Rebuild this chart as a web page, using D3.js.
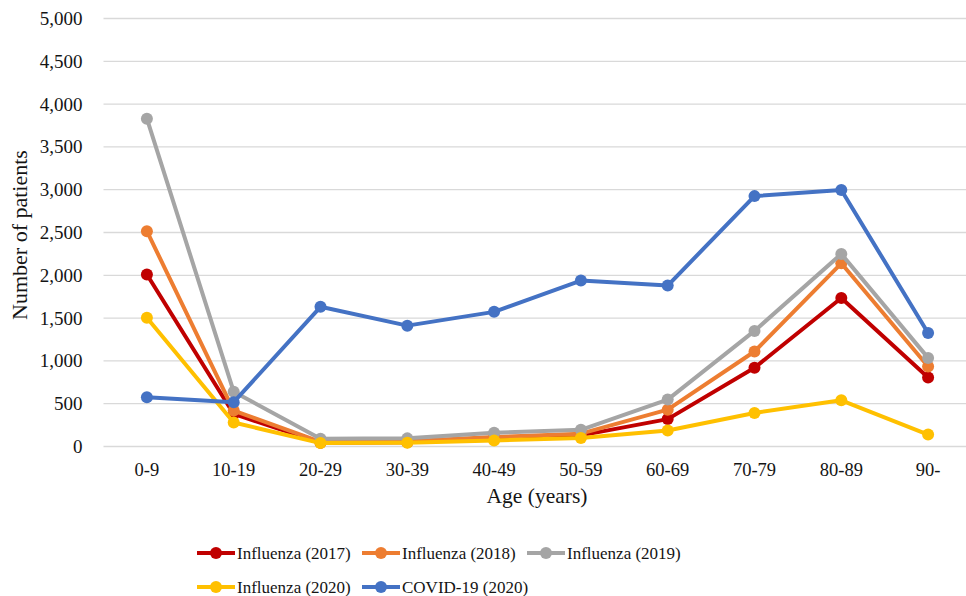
<!DOCTYPE html>
<html>
<head>
<meta charset="utf-8">
<script src="https://cdn.jsdelivr.net/npm/d3@7"></script>
<style>
  html, body { margin: 0; padding: 0; overflow: hidden; background: #fff; }
  svg { display: block; }
</style>
</head>
<body>
<svg id="chart" width="966" height="596"></svg>
<script>
const ageGroups = ['0-9', '10-19', '20-29', '30-39', '40-49', '50-59', '60-69', '70-79', '80-89', '90-']
const flu2017 = [2010, 380, 45, 50, 95, 130, 320, 920, 1735, 805]
const flu2018 = [2515, 420, 55, 60, 110, 150, 430, 1110, 2140, 935]
const flu2019 = [3830, 640, 90, 95, 160, 195, 548, 1350, 2250, 1035]
const flu2020 = [1505, 280, 40, 45, 70, 100, 186, 392, 540, 140]
const covid2020 = [575, 518, 1632, 1412, 1573, 1938, 1880, 2925, 2997, 1325]
const seriesNames = ['Influenza (2017)', 'Influenza (2018)', 'Influenza (2019)', 'Influenza (2020)', 'COVID-19 (2020)']
const seriesColors = ['#c00000', '#ed7d31', '#a5a5a5', '#ffc000', '#4472c4']
const yTicks = [0, 500, 1000, 1500, 2000, 2500, 3000, 3500, 4000, 4500, 5000]

const FONT = "'Liberation Serif', 'Times New Roman', serif"
const INK = '#141414'

const series = [flu2017, flu2018, flu2019, flu2020, covid2020].map((vals, i) => ({
  name: seriesNames[i],
  color: seriesColors[i],
  values: vals
}))

const svg = d3.select('#chart').attr('font-family', FONT)
const margin = { left: 103.5, right: -5.5, top: 18.5, bottom: 149.5 }
const width = +svg.attr('width')
const height = +svg.attr('height')
const innerWidth = width - margin.left - margin.right
const innerHeight = height - margin.top - margin.bottom
const gridRight = width - margin.left // the reference is cropped at the right edge

const x = d3.scaleBand().domain(ageGroups).range([0, innerWidth]).padding(0)
const y = d3.scaleLinear().domain([0, 5000]).range([innerHeight, 0])

const g = svg.append('g')
  .attr('transform', 'translate(' + margin.left + ',' + margin.top + ')')

// grid
g.append('g').selectAll('line').data(yTicks)
  .enter().append('line')
  .attr('x1', 0).attr('x2', gridRight)
  .attr('y1', d => y(d)).attr('y2', d => y(d))
  .attr('stroke', '#d9d9d9')
  .attr('stroke-width', 1.3)

// y labels
const yAxis = d3.axisLeft(y).tickValues(yTicks).tickSize(0).tickPadding(21)
  .tickFormat(d3.format(','))
const yAxisG = g.append('g').call(yAxis)
  .attr('font-family', FONT).attr('font-size', 19)
yAxisG.select('.domain').remove()
yAxisG.selectAll('.tick text').attr('fill', INK)

const xAxis = d3.axisBottom(x).tickSize(0).tickPadding(16)
const xAxisG = g.append('g').attr('transform', `translate(0, ${innerHeight})`).call(xAxis)
  .attr('font-family', FONT).attr('font-size', 18.5)
xAxisG.select('.domain').remove()
xAxisG.selectAll('.tick text').attr('fill', INK)

const line = d3.line()
  .x((d, i) => x(ageGroups[i]) + x.bandwidth() / 2)
  .y(d => y(d))

series.forEach(s => {
  const sg = g.append('g')
  sg.append('path')
    .datum(s.values)
    .attr('fill', 'none')
    .attr('stroke', s.color)
    .attr('stroke-width', 4)
    .attr('stroke-linejoin', 'round')
    .attr('d', line)
  sg.selectAll('circle').data(s.values)
    .enter().append('circle')
    .attr('cx', (d, i) => x(ageGroups[i]) + x.bandwidth() / 2)
    .attr('cy', d => y(d))
    .attr('r', 6)
    .attr('fill', s.color)
})

// axis titles
svg.append('text')
  .attr('x', 537)
  .attr('y', 503)
  .attr('text-anchor', 'middle')
  .attr('fill', INK)
  .attr('font-size', 21.5)
  .text('Age (years)')

svg.append('text')
  .attr('transform', 'translate(27, 235) rotate(-90)')
  .attr('text-anchor', 'middle')
  .attr('fill', INK)
  .attr('font-size', 22)
  .text('Number of patients')

// legend
const legendPos = [[197, 553], [362, 553], [527, 553], [197, 587], [362, 587]]
series.forEach((s, i) => {
  const lg = svg.append('g').attr('transform', `translate(${legendPos[i][0]}, ${legendPos[i][1]})`)
  lg.append('line')
    .attr('x1', 0).attr('x2', 38)
    .attr('y1', 0).attr('y2', 0)
    .attr('stroke', s.color)
    .attr('stroke-width', 4)
  lg.append('circle').attr('cx', 19).attr('cy', 0).attr('r', 6).attr('fill', s.color)
  lg.append('text')
    .attr('x', 40)
    .attr('y', 6)
    .attr('fill', INK)
    .attr('font-size', 17)
    .text(s.name)
})
</script>
</body>
</html>
